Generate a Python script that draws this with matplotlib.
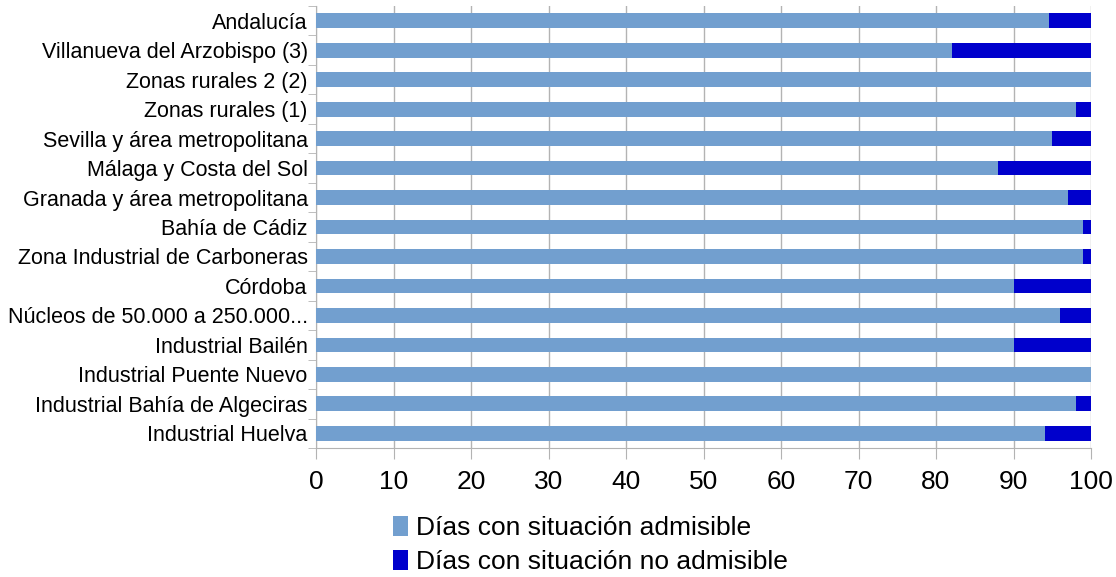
import matplotlib.pyplot as plt
import numpy as np

plt.rcParams['font.family'] = ['Liberation Sans', 'DejaVu Sans']

# categories, top to bottom as shown
zonas = ['Andalucía', 'Villanueva del Arzobispo (3)', 'Zonas rurales 2 (2)',
         'Zonas rurales (1)', 'Sevilla y área metropolitana', 'Málaga y Costa del Sol',
         'Granada y área metropolitana', 'Bahía de Cádiz', 'Zona Industrial de Carboneras',
         'Córdoba', 'Núcleos de 50.000 a 250.000...', 'Industrial Bailén',
         'Industrial Puente Nuevo', 'Industrial Bahía de Algeciras', 'Industrial Huelva']
admisible = [94.6, 82, 100, 98, 95, 88, 97, 99, 99, 90, 96, 90, 100, 98, 94]
no_admisible = [100 - v for v in admisible]

fig = plt.figure(figsize=(11.16, 5.77), dpi=100)
ax = fig.add_axes([316/1116, 1 - 448/577, 775/1116, 442/577])

y = np.arange(len(zonas))[::-1]
ax.barh(y, admisible, height=0.5, color='#729fcf', label='Días con situación admisible', zorder=3)
ax.barh(y, no_admisible, left=admisible, height=0.5, color='#0000cc',
        label='Días con situación no admisible', zorder=3)

ax.set_xlim(0, 100)
ax.set_ylim(-0.5, len(zonas) - 0.5)
ax.set_xticks(range(0, 101, 10))
ax.tick_params(axis='x', labelsize=19, length=8, color='#b3b3b3', pad=8)
ax.set_yticks(y)
ax.set_yticklabels(zonas, fontsize=15.5)
ax.tick_params(axis='y', length=0, pad=6)
ax.set_yticks(np.arange(-0.5, len(zonas), 1), minor=True)
ax.tick_params(axis='y', which='minor', length=6, color='#b3b3b3')
ax.grid(axis='x', color='#b3b3b3', linewidth=1, zorder=0)
for s in ['top', 'right']:
    ax.spines[s].set_visible(False)
for s in ['left', 'bottom']:
    ax.spines[s].set_color('#b3b3b3')

fig.legend(loc='upper left', bbox_to_anchor=(382/1116, 1 - 505/577), frameon=False,
           fontsize=19, handlelength=0.6, handleheight=0.8, handletextpad=0.3,
           labelspacing=0.38, borderaxespad=0)

fig.savefig('out.png', dpi=100)
